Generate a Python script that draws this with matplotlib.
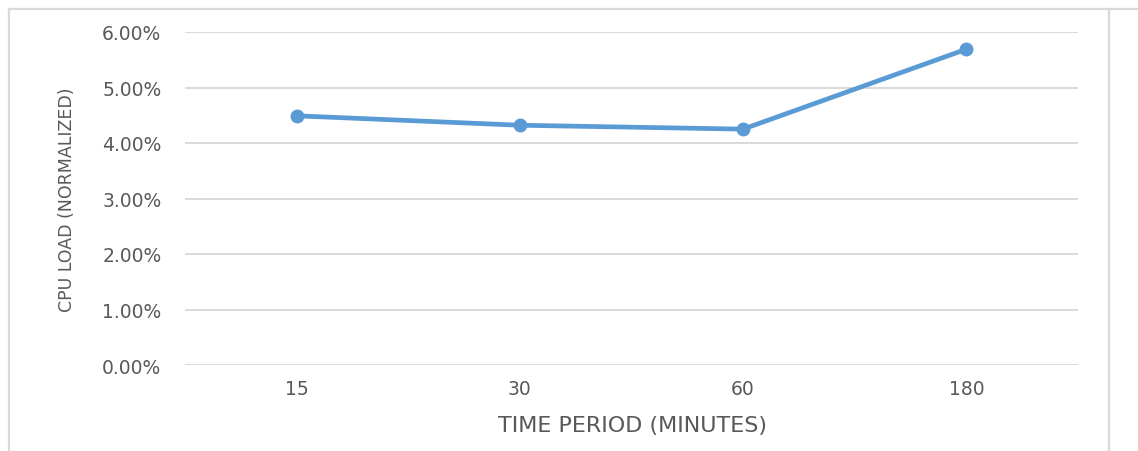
import matplotlib
matplotlib.use("Agg")
import matplotlib.pyplot as plt
from matplotlib.lines import Line2D
from matplotlib.ticker import FuncFormatter

# Data
periods = ["15", "30", "60", "180"]
cpu_load = [0.0449, 0.0432, 0.0425, 0.0569]
y_ticks = [0.00, 0.01, 0.02, 0.03, 0.04, 0.05, 0.06]

W, H = 1138, 452
fig = plt.figure(figsize=(W / 100, H / 100), dpi=100)
fig.patch.set_facecolor("white")

ax = fig.add_axes([185 / W, 1 - 366 / H, (1078 - 185) / W, (366 - 33) / H])

x = list(range(len(periods)))
ax.plot(x, cpu_load, color="#5B9BD5", linewidth=3.4, marker="o",
        markersize=9, solid_capstyle="round", zorder=3)

ax.set_xlim(-0.5, len(periods) - 0.5)
ax.set_ylim(0, 0.06)
ax.set_yticks(y_ticks)
ax.yaxis.set_major_formatter(FuncFormatter(lambda v, p: f"{v * 100:.2f}%"))
ax.set_xticks(x)
ax.set_xticklabels(periods)

ax.grid(axis="y", color="#D9D9D9", linewidth=1.4)
ax.set_axisbelow(True)
for s in ax.spines.values():
    s.set_visible(False)
ax.tick_params(axis="both", length=0, labelsize=13.5, colors="#595959")
ax.tick_params(axis="y", pad=17)
ax.tick_params(axis="x", pad=10)
for lbl in ax.get_xticklabels() + ax.get_yticklabels():
    lbl.set_fontfamily("DejaVu Sans")

fig.text(633 / W, 1 - 426 / H, "TIME PERIOD (MINUTES)", ha="center", va="center",
         fontsize=16, color="#595959", family="DejaVu Sans")
fig.text(67 / W, 1 - 200 / H, "CPU LOAD (NORMALIZED)", rotation=90,
         ha="center", va="center", fontsize=12.5, color="#595959",
         family="DejaVu Sans")

# Surrounding frame lines
frame = dict(transform=fig.transFigure, color="#D9D9D9", linewidth=1.6)
fig.add_artist(Line2D([9 / W, 9 / W], [0, 1 - 10 / H], **frame))
fig.add_artist(Line2D([9 / W, 1], [1 - 10 / H, 1 - 10 / H], **frame))
fig.add_artist(Line2D([1109 / W, 1109 / W], [0, 1 - 10 / H], **frame))

fig.savefig("out.png", dpi=100, facecolor="white")
